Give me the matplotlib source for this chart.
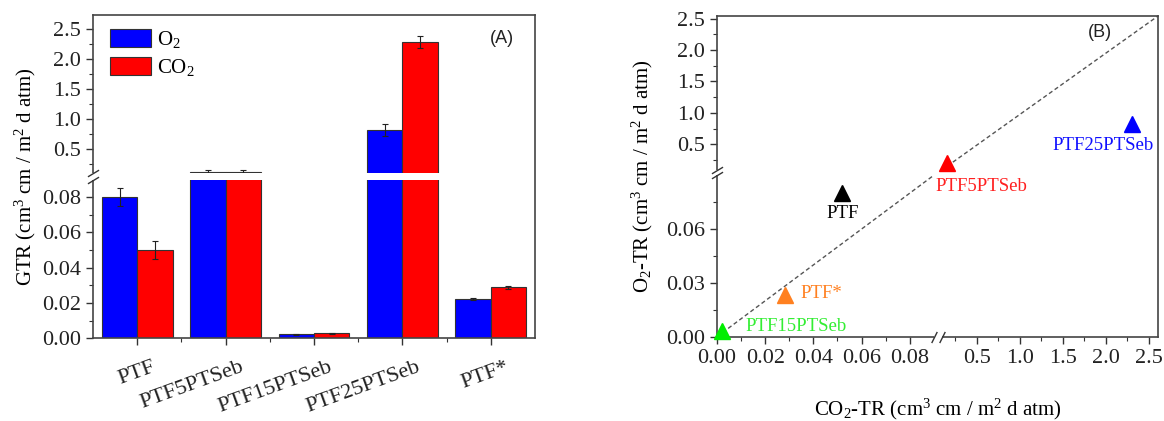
import numpy as np
import matplotlib
matplotlib.use('Agg')
from matplotlib import pyplot as plt
from matplotlib.transforms import ScaledTranslation

plt.rcParams['font.family'] = ['Liberation Serif', 'DejaVu Serif']
plt.rcParams['mathtext.fontset'] = 'custom'
plt.rcParams['mathtext.rm'] = 'Liberation Serif'
plt.rcParams['mathtext.it'] = 'Liberation Serif:italic'

# (A) gas transmission rate per film
samples = ['PTF', 'PTF5PTSeb', 'PTF15PTSeb', 'PTF25PTSeb', 'PTF*']
gtr_o2 = [0.080, 0.121, 0.0023, 0.817, 0.0223]
gtr_o2_err = [0.005, 0.03, 0.0003, 0.10, 0.0008]
gtr_co2 = [0.050, 0.123, 0.0028, 2.285, 0.0289]
gtr_co2_err = [0.005, 0.03, 0.0003, 0.10, 0.0010]

# (B) O2-TR vs CO2-TR
tr_co2 = [0.052, 0.154, 0.002, 2.31, 0.0284]
tr_o2 = [0.080, 0.200, 0.0032, 0.82, 0.0234]
pt_colors = ['#000000', '#ff0000', '#00ee00', '#0000ff', '#ff8020']

yt_a = [0, 0.02, 0.04, 0.06, 0.08, 0.5, 1.0, 1.5, 2.0, 2.5]
yt_a_lab = ['0.00', '0.02', '0.04', '0.06', '0.08', '0.5', '1.0', '1.5', '2.0', '2.5']
xt_b = [0, 0.02, 0.04, 0.06, 0.08, 0.5, 1.0, 1.5, 2.0, 2.5]
xt_b_lab = ['0.00', '0.02', '0.04', '0.06', '0.08', '0.5', '1.0', '1.5', '2.0', '2.5']
yt_b = [0, 0.03, 0.06, 0.5, 1.0, 1.5, 2.0, 2.5]
yt_b_lab = ['0.00', '0.03', '0.06', '0.5', '1.0', '1.5', '2.0', '2.5']


def broken_scale(lo_top, lo_px, gap_px, hi_k, hi_top):
    '''piecewise linear axis: 0..lo_top, small gap, then lo_top..hi_top'''
    gap_top = lo_top + 1e-4
    lo_k = lo_px / lo_top
    p2 = lo_px + gap_px
    p3 = p2 + (hi_top - gap_top) * hi_k
    xp = [-10, 0, lo_top, gap_top, hi_top, 100]
    fp = [-10 * lo_k, 0, lo_px, p2, p3, p3 + (100 - hi_top) * hi_k]
    return (lambda v: np.interp(v, xp, fp), lambda p: np.interp(p, fp, xp))


def style_axes(ax):
    for s in ax.spines.values():
        s.set_color('#444444')
        s.set_linewidth(1.2)
    ax.tick_params(which='both', direction='out', color='#333333', labelsize=16,
                   labelcolor='#222222')
    ax.tick_params(which='major', length=5, width=1)
    ax.tick_params(which='minor', length=3, width=0.8)


brk_y = dict(marker=[(-1, -0.6), (1, 0.6)], markersize=8, linestyle='none',
             color='#333333', mec='#333333', mew=1, clip_on=False, zorder=6)
brk_x = dict(marker=[(-0.5, -1), (0.5, 1)], markersize=8, linestyle='none',
             color='#333333', mec='#333333', mew=1, clip_on=False, zorder=6)

fig = plt.figure(figsize=(11.64, 4.21), dpi=100)

# ---------------- (A)
axA = fig.add_axes([93 / 1164, 1 - 338.3 / 421, 442 / 1164, 323.3 / 421])
fa, ia = broken_scale(0.09, 158.6, 6.1, 60, 2.73)
axA.set_yscale('function', functions=(fa, ia))
x = np.arange(len(samples))
w = 0.4
axA.bar(x - w / 2, gtr_o2, w, color='#0000ff', edgecolor='#333333', linewidth=0.8,
        label=r'O$_\mathrm{2}$')
axA.bar(x + w / 2, gtr_co2, w, color='#ff0000', edgecolor='#333333', linewidth=0.8,
        label=r'CO$_\mathrm{2}$')
axA.errorbar(x - w / 2, gtr_o2, yerr=gtr_o2_err, fmt='none', ecolor='#222222',
             elinewidth=0.8, capsize=2.5, capthick=0.8, zorder=2.1)
axA.errorbar(x + w / 2, gtr_co2, yerr=gtr_co2_err, fmt='none', ecolor='#222222',
             elinewidth=0.8, capsize=2.5, capthick=0.8, zorder=2.1)
axA.axhspan(0.09, 0.0901, color='white', lw=0, zorder=2.2)
axA.set_xlim(-0.5, 4.5)
axA.set_ylim(0, 2.73)
axA.set_yticks(yt_a, yt_a_lab)
axA.set_yticks([0.01, 0.03, 0.05, 0.07, 0.25, 0.75, 1.25, 1.75, 2.25], minor=True)
axA.set_xticks(x, samples)
axA.set_xticks(x[:-1] + 0.5, minor=True)
style_axes(axA)
axA.tick_params(axis='x', which='major', pad=9)
offset = ScaledTranslation(14 / 100, 0, fig.dpi_scale_trans)
for lbl in axA.get_xticklabels():
    lbl.set_rotation(20)
    lbl.set_ha('right')
    lbl.set_va('top')
    lbl.set_rotation_mode('anchor')
    lbl.set_transform(lbl.get_transform() + offset)
axA.set_ylabel(r'GTR (cm$^\mathrm{3}$ cm / m$^\mathrm{2}$ d atm)', fontsize=15, labelpad=3)
axA.plot([0, 0], [0.09, 0.0901], transform=axA.get_yaxis_transform(), color='white',
         lw=3, clip_on=False, zorder=5, solid_capstyle='butt')
axA.plot([0, 0], [0.09, 0.0901], transform=axA.get_yaxis_transform(), **brk_y)
axA.legend(loc='upper left', bbox_to_anchor=(0.038, 0.957), frameon=False, fontsize=15,
           handlelength=2.0, handleheight=0.95, labelspacing=0.35, handletextpad=0.25,
           borderpad=0, borderaxespad=0)
axA.text(0.925, 0.926, '(A)', transform=axA.transAxes, ha='center', va='center',
         fontsize=13, family='Liberation Sans', color='#222222')

# ---------------- (B)
axB = fig.add_axes([717 / 1164, 1 - 336.7 / 421, 441 / 1164, 320.7 / 421])
fx, ix = broken_scale(0.09, 217.1, 7.7, 86, 2.61)
fy, iy = broken_scale(0.09, 161.6, 5.0, 63, 2.54)
axB.set_xscale('function', functions=(fx, ix))
axB.set_yscale('function', functions=(fy, iy))
axB.set_xlim(0, 2.61)
axB.set_ylim(0, 2.54)

axB.plot([0, 0.09], [0, 0.09], color='#555555', lw=1, dashes=(3, 2), zorder=2)
axB.plot([0.0901, 2.61], [0.0901, 2.54], color='#555555', lw=1, dashes=(3, 2), zorder=2)

lab_style = {
    'PTF': ((0, -14.5), 'center', '#000000'),
    'PTF5PTSeb': ((24.5, -17), 'center', '#ff2020'),
    'PTF15PTSeb': ((17, 3), 'left', '#33ee33'),
    'PTF25PTSeb': ((-21, -15), 'center', '#1010ff'),
    'PTF*': ((11, 1), 'left', '#ff8020'),
}
for name, cx, cy, c in zip(samples, tr_co2, tr_o2, pt_colors):
    axB.plot(cx, cy, marker='^', ms=11, color=c, linestyle='none', clip_on=False, zorder=4)
    off, ha, tc = lab_style[name]
    axB.annotate(name, (cx, cy), xytext=off, textcoords='offset points', ha=ha,
                 va='center', color=tc, fontsize=13.5, annotation_clip=False)

axB.set_xticks(xt_b, xt_b_lab)
axB.set_xticks([0.01, 0.03, 0.05, 0.07, 0.25, 0.75, 1.25, 1.75, 2.25], minor=True)
axB.set_yticks(yt_b, yt_b_lab)
axB.set_yticks([0.015, 0.045, 0.075, 0.25, 0.75, 1.25, 1.75, 2.25], minor=True)
style_axes(axB)
axB.set_xlabel(r'CO$_\mathrm{2}$-TR (cm$^\mathrm{3}$ cm / m$^\mathrm{2}$ d atm)',
               fontsize=15, labelpad=21)
axB.set_ylabel(r'O$_\mathrm{2}$-TR (cm$^\mathrm{3}$ cm / m$^\mathrm{2}$ d atm)',
               fontsize=15, labelpad=8)
axB.plot([0, 0], [0.09, 0.0901], transform=axB.get_yaxis_transform(), color='white',
         lw=3, clip_on=False, zorder=5, solid_capstyle='butt')
axB.plot([0, 0], [0.09, 0.0901], transform=axB.get_yaxis_transform(), **brk_y)
axB.plot([0.09, 0.0901], [0, 0], transform=axB.get_xaxis_transform(), color='white',
         lw=3, clip_on=False, zorder=5, solid_capstyle='butt')
axB.plot([0.09, 0.0901], [0, 0], transform=axB.get_xaxis_transform(), **brk_x)
axB.text(0.868, 0.95, '(B)', transform=axB.transAxes, ha='center', va='center',
         fontsize=13, family='Liberation Sans', color='#222222')

fig.savefig('out.png', dpi=100)
